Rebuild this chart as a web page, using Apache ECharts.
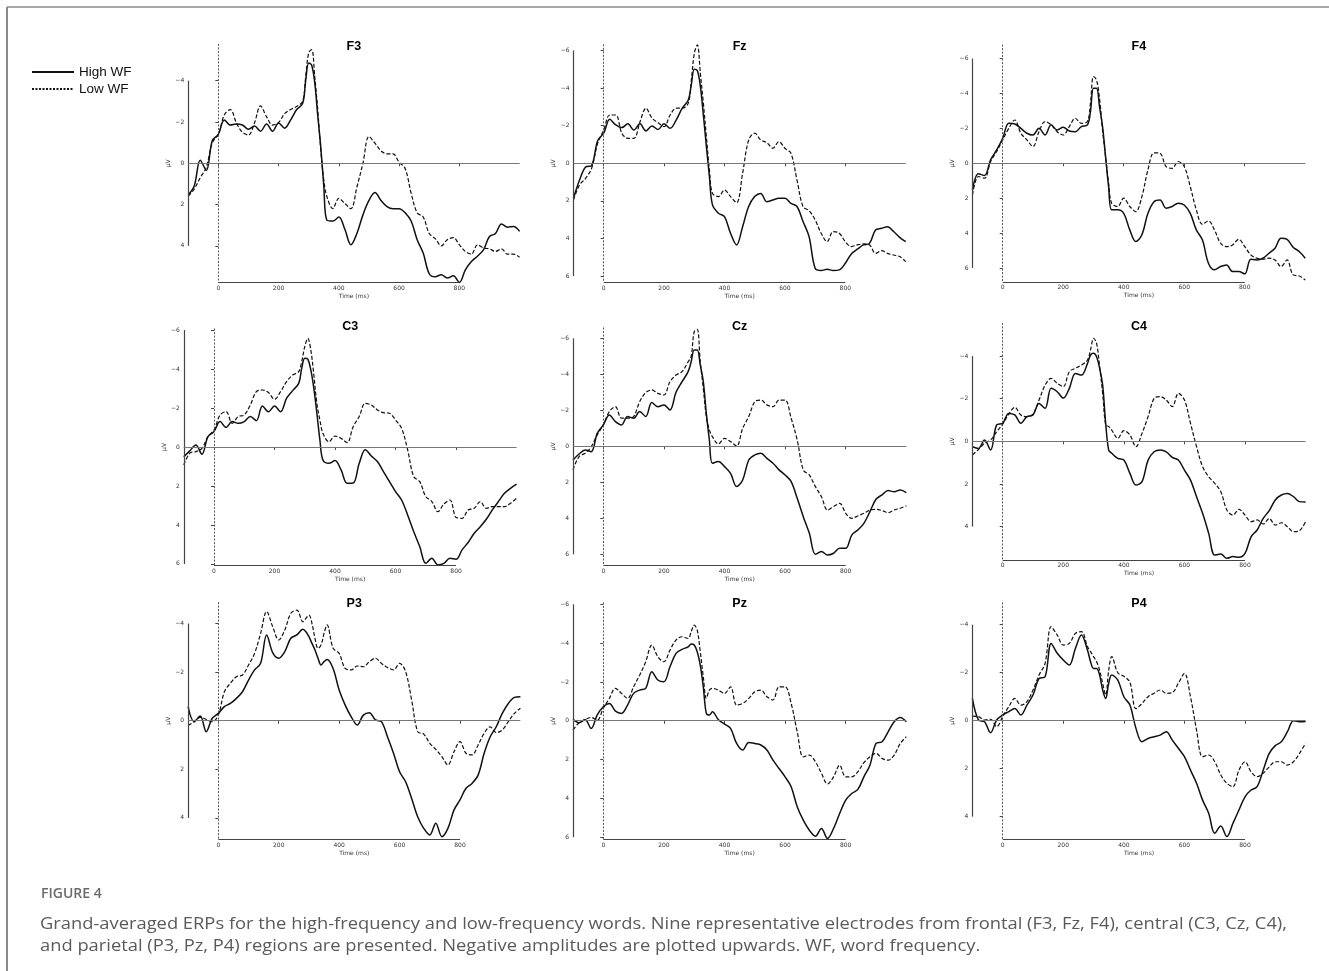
<!DOCTYPE html>
<html><head><meta charset="utf-8">
<script src="https://cdn.jsdelivr.net/npm/echarts@6/dist/echarts.min.js"></script>
<style>html,body{margin:0;padding:0;background:#fff}#c{width:1329px;height:971px}</style>
</head><body><div id="c"></div>
<script>
// ---------- DATA ----------
const electrodes = ['F3','Fz','F4','C3','Cz','C4','P3','Pz','P4'];
const seriesNames = ['High WF','Low WF'];
const times = [-100,-80,-60,-40,-20,0,20,40,60,80,100,120,140,160,180,200,220,240,260,280,
  290,300,310,320,330,340,350,360,
  380,400,420,440,460,480,500,520,540,560,580,600,620,640,660,680,700,720,740,760,780,800,820,840,860,880,900,920,940,960,980,1000];

const highF3 = [1.53,1.1,-0.15,0.35,-1.1,-1.4,-2.1,-1.85,-1.9,-1.85,-1.65,-1.8,-1.55,-1.9,-1.55,-1.95,-1.7,-2.1,-2.6,-2.9,
  -4.0,-4.85,-4.75,-3.9,-2.3,-0.8,1.1,2.75,
  2.8,2.6,3.2,3.95,3.4,2.5,1.8,1.42,1.8,2.1,2.2,2.2,2.4,2.8,3.7,4.35,5.35,5.5,5.4,5.56,5.45,5.77,5.16,4.76,4.5,4.2,3.55,3.4,2.94,3.1,3.06,3.3];
const lowF3 = [1.6,1.25,0.7,0.2,-1.0,-1.4,-2.35,-2.6,-1.95,-1.5,-1.37,-1.95,-2.78,-2.26,-1.85,-1.97,-2.4,-2.6,-2.75,-3.0,
  -4.2,-5.35,-5.5,-4.2,-2.6,-0.65,0.8,1.6,
  2.2,1.7,1.95,2.2,1.15,0.0,-1.3,-0.97,-0.6,-0.45,-0.45,-0.05,0.25,1.45,2.4,2.6,3.4,3.65,4.0,3.7,3.6,3.95,4.27,4.4,3.95,4.1,4.15,4.27,4.15,4.4,4.4,4.55];

const highFz = [1.86,0.89,0.2,0.12,-1.2,-1.6,-2.34,-2.04,-1.9,-2.1,-1.77,-2.1,-1.72,-1.99,-1.8,-2.1,-1.86,-2.3,-2.93,-3.37,
  -4.17,-5.0,-4.93,-4.1,-2.57,-0.9,0.7,2.2,
  2.66,2.84,3.72,4.34,3.37,2.3,1.77,1.6,2.04,1.95,1.86,1.86,2.13,2.3,3.1,3.9,5.58,5.7,5.64,5.7,5.67,5.32,4.82,4.57,4.34,4.26,3.55,3.46,3.37,3.63,3.94,4.17];
const lowFz = [1.95,1.15,0.8,0.27,-1.06,-1.77,-2.57,-2.57,-1.6,-1.33,-1.33,-2.2,-2.93,-2.4,-2.16,-1.95,-2.57,-2.93,-2.93,-3.2,
  -4.4,-5.85,-6.3,-4.8,-3.2,-1.42,0.35,1.6,
  1.77,1.42,1.77,2.1,0.53,-1.24,-1.6,-1.24,-1.1,-0.8,-1.15,-0.8,-0.53,0.89,2.3,2.52,3.0,3.72,4.17,3.63,3.72,4.17,4.43,4.34,4.29,4.34,4.79,4.65,4.79,4.88,4.96,5.23];

const highF4 = [1.53,0.6,0.7,-0.19,-0.76,-1.43,-2.29,-2.25,-2.0,-1.72,-1.62,-2.0,-1.62,-2.2,-1.91,-2.06,-1.85,-1.81,-2.1,-2.2,
  -2.96,-4.3,-4.3,-3.25,-2.1,-0.38,1.34,2.67,
  2.67,2.87,3.82,4.49,4.1,2.87,2.2,2.1,2.58,2.48,2.29,2.39,2.87,3.82,4.39,5.73,6.11,5.92,5.83,6.21,6.21,6.34,5.5,5.54,5.44,5.16,4.87,4.3,4.36,4.81,5.06,5.44];
const lowF4 = [1.81,0.76,0.86,-0.1,-0.67,-1.34,-2.0,-2.48,-1.72,-1.34,-0.96,-1.81,-2.39,-2.2,-1.81,-1.62,-2.1,-2.58,-2.29,-2.39,
  -3.44,-4.97,-4.78,-3.72,-1.9,-0.38,1.15,2.29,
  2.48,2.0,2.48,2.77,1.91,0.38,-0.6,-0.57,0.19,0.29,-0.1,0.19,1.34,2.67,3.5,3.3,3.82,4.58,4.78,4.68,4.36,4.78,5.25,5.44,5.5,5.44,5.54,5.92,5.54,6.4,6.46,6.69];

const highC3 = [0.5,0.2,-0.1,0.38,-0.53,-0.79,-1.3,-1.0,-1.3,-1.21,-1.3,-1.56,-1.35,-2.1,-1.81,-2.1,-1.81,-2.5,-2.89,-3.26,
  -4.04,-4.55,-4.5,-3.95,-3.0,-1.73,-0.36,0.67,
  0.84,0.7,1.18,1.86,1.85,0.84,0.15,0.46,0.75,1.26,1.78,2.29,2.72,3.49,4.34,5.11,5.97,5.71,6.05,5.97,5.71,5.76,5.28,4.9,4.43,4.09,3.71,3.23,2.8,2.38,2.12,1.91];
const lowC3 = [0.92,0.32,0.24,0.07,-0.53,-0.87,-1.64,-1.81,-1.21,-1.56,-1.64,-2.15,-2.84,-2.92,-2.79,-2.44,-2.84,-3.35,-3.69,-3.86,
  -4.38,-5.15,-5.57,-4.97,-3.69,-2.24,-1.38,-0.7,
  -0.27,-0.56,-0.44,-0.22,-1.04,-1.56,-2.24,-2.15,-1.9,-1.76,-1.73,-1.38,-0.96,0.15,1.52,1.78,2.55,2.8,3.32,2.92,2.72,3.61,3.66,3.23,3.15,2.8,3.15,3.06,3.06,3.06,2.89,2.63];

const highCz = [0.76,0.43,0.2,0.3,-0.72,-1.19,-1.74,-1.37,-1.19,-1.65,-1.56,-1.93,-1.65,-2.43,-2.2,-2.3,-2.02,-3.0,-3.59,-4.15,
  -4.7,-5.35,-5.35,-4.52,-3.6,-1.83,-0.35,0.94,
  0.85,1.13,1.5,2.24,1.87,0.76,0.48,0.39,0.67,0.94,1.31,1.59,1.96,2.89,3.91,4.83,6.0,5.85,6.04,5.94,5.67,5.67,4.93,4.65,4.28,3.63,2.94,2.7,2.46,2.52,2.43,2.57];
const lowCz = [1.31,0.57,0.39,0.02,-0.63,-1.19,-1.93,-2.2,-1.56,-1.56,-1.65,-2.48,-2.98,-3.13,-2.94,-2.85,-3.59,-3.96,-4.15,-4.7,
  -5.0,-6.37,-6.5,-4.7,-3.22,-1.65,-0.91,-0.54,
  -0.13,-0.44,-0.26,-0.02,-1.0,-1.65,-2.48,-2.57,-2.3,-2.2,-2.57,-2.57,-1.56,-0.35,1.31,1.59,2.24,2.8,3.54,3.35,3.17,3.72,4.0,3.87,3.72,3.54,3.5,3.57,3.69,3.54,3.44,3.31];

const highC4 = [0.25,0.33,-0.06,0.41,-0.77,-0.85,-1.31,-1.24,-0.85,-1.16,-1.24,-1.78,-1.55,-2.49,-2.33,-2.03,-2.49,-3.19,-3.11,-3.66,
  -4.05,-4.13,-3.97,-3.43,-2.64,-0.85,0.41,0.56,
  0.8,0.88,1.5,2.05,1.89,0.88,0.49,0.41,0.49,0.75,0.88,1.35,1.82,2.6,3.38,4.32,5.34,5.29,5.49,5.41,5.44,5.26,4.48,4.16,3.62,3.25,2.75,2.52,2.45,2.6,2.83,2.85];
const lowC4 = [0.64,0.38,0.09,-0.06,-0.45,-0.81,-1.28,-1.6,-1.24,-1.16,-1.28,-1.94,-2.64,-2.96,-2.72,-2.57,-3.27,-3.43,-3.58,-3.82,
  -4.3,-4.84,-4.6,-3.51,-2.25,-0.77,-0.69,-0.53,
  -0.14,-0.5,-0.3,0.25,-0.38,-1.16,-2.02,-2.1,-1.94,-1.63,-2.25,-1.94,-0.85,0.25,1.19,1.66,1.97,2.36,3.22,3.46,3.19,3.46,3.77,3.69,3.88,3.62,3.93,3.82,4.01,4.24,4.19,3.77];

const highP3 = [-0.58,0.04,-0.19,0.45,-0.1,-0.3,-0.58,-0.71,-0.92,-1.19,-1.67,-2.09,-2.36,-3.53,-2.8,-2.57,-2.84,-3.39,-3.53,-3.76,
  -3.66,-3.46,-3.18,-2.91,-2.57,-2.29,-2.43,-2.52,
  -2.15,-1.26,-0.64,-0.16,0.18,-0.23,-0.33,-0.03,0.04,0.66,1.34,2.1,2.51,3.2,3.95,4.43,4.7,4.22,4.77,4.43,3.68,3.26,2.78,2.58,2.24,1.34,0.66,0.25,-0.3,-0.71,-0.96,-0.99];
const lowP3 = [0.2,0.04,-0.14,-0.05,0.04,-0.23,-1.19,-1.54,-1.81,-1.88,-2.29,-2.77,-3.59,-4.49,-3.87,-3.32,-3.73,-4.42,-4.55,-4.07,
  -4.21,-4.35,-4.0,-3.39,-2.98,-3.11,-3.59,-3.94,
  -2.98,-2.77,-2.15,-2.09,-2.25,-2.22,-2.43,-2.57,-2.36,-2.19,-2.09,-2.36,-2.02,-0.85,0.45,0.55,0.93,1.18,1.48,1.82,1.28,0.86,1.34,1.41,1.0,0.52,0.25,0.49,0.38,0.04,-0.3,-0.51];

const highPz = [-0.07,0.1,-0.05,0.4,-0.3,-0.72,-0.89,-0.5,-0.38,-0.81,-1.41,-1.58,-1.67,-2.53,-2.1,-2.01,-2.78,-3.47,-3.68,-3.81,
  -3.95,-3.9,-3.56,-2.87,-1.75,-0.38,-0.29,-0.46,
  -0.05,0.17,0.39,1.17,1.51,1.12,1.17,1.25,1.51,2.03,2.46,2.89,3.4,4.43,5.12,5.64,5.95,5.55,6.07,5.55,4.78,4.09,3.75,3.54,2.89,2.29,1.17,1.08,0.57,0.05,-0.17,0.05];
const lowPz = [0.48,0.1,-0.07,-0.17,-0.03,-0.64,-1.15,-1.67,-1.41,-1.15,-1.75,-2.35,-3.04,-3.9,-3.3,-3.04,-3.64,-4.16,-4.33,-4.24,
  -4.59,-4.93,-4.67,-3.56,-2.27,-1.15,-1.58,-1.67,
  -1.58,-1.41,-1.75,-0.81,-0.89,-1.15,-1.49,-1.58,-1.24,-1.07,-1.75,-1.75,-0.89,0.57,1.86,1.77,2.11,2.71,3.26,2.89,2.29,2.89,2.89,2.63,2.16,1.86,1.68,1.94,2.03,1.77,1.17,0.82];

const highP4 = [-0.93,-0.03,0.04,0.5,-0.03,-0.24,-0.38,-0.51,-0.24,-0.65,-1.07,-1.76,-1.83,-3.22,-2.81,-2.53,-2.32,-3.01,-3.57,-2.94,
  -2.46,-2.18,-2.18,-1.9,-1.28,-0.93,-1.56,-1.9,
  -1.69,-1.0,-0.65,0.32,0.88,0.74,0.67,0.6,0.46,0.81,1.15,1.5,2.06,2.61,3.31,3.86,4.69,4.39,4.83,4.28,3.72,3.17,2.89,2.75,2.06,1.36,1.04,0.88,0.46,0.0,0.04,0.03];
const lowP4 = [-0.19,-0.17,-0.03,-0.06,0.25,-0.17,-0.58,-0.93,-0.65,-0.79,-1.28,-1.9,-2.39,-3.92,-3.57,-3.15,-3.22,-3.64,-3.71,-3.08,
  -2.88,-2.67,-2.46,-2.11,-1.56,-1.07,-2.11,-2.67,
  -2.0,-1.85,-1.6,-0.5,-0.72,-1.0,-1.14,-1.28,-1.14,-1.17,-1.56,-1.97,-1.0,0.39,1.5,1.43,1.71,2.26,2.61,2.75,2.06,1.71,2.13,2.33,2.19,1.92,1.71,1.71,1.85,1.71,1.36,0.94];

const highData = [highF3, highFz, highF4, highC3, highCz, highC4, highP3, highPz, highP4];
const lowData  = [lowF3, lowFz, lowF4, lowC3, lowCz, lowC4, lowP3, lowPz, lowP4];

const xTicks = [0, 200, 400, 600, 800];
const yTicks4 = [-4, -2, 0, 2, 4];
const yTicks6 = [-6, -4, -2, 0, 2, 4, 6];
const yTicks = [yTicks4, yTicks6, yTicks6, yTicks6, yTicks6, yTicks4, yTicks4, yTicks6, yTicks4];
const yLim = [5.78, 6.33, 6.8, 6.07, 6.6, 5.56, 4.88, 6.1, 4.93];
const xMin = -100, xMax = 1000;

const captionLabel = 'FIGURE 4';
const captionLines = [
  'Grand-averaged ERPs for the high-frequency and low-frequency words. Nine representative electrodes from frontal (F3, Fz, F4), central (C3, Cz, C4),',
  'and parietal (P3, Pz, P4) regions are presented. Negative amplitudes are plotted upwards. WF, word frequency.'
];

// ---------- LAYOUT ----------
const panelBox = [
  {left:188.2, top:43.9,  width:331.4, height:238.7},
  {left:573.5, top:44.3,  width:332.2, height:238.0},
  {left:972.45,top:44.6,  width:332.8, height:237.3},
  {left:183.75,top:328.6, width:332.8, height:236.7},
  {left:573.0, top:327.5, width:333.3, height:237.6},
  {left:972.4, top:322.9, width:333.2, height:236.9},
  {left:188.1, top:602.1, width:332.3, height:237.2},
  {left:573.0, top:602.4, width:333.3, height:236.7},
  {left:972.4, top:602.4, width:333.2, height:236.6}
];
const titleY = [47, 47, 47, 326.7, 326.7, 326.7, 604, 604, 604];

const tickFont = 'DejaVu Sans';
const fmtY = v => (v < 0 ? '\u2212' + Math.abs(v) : String(v));

const grids = [], xAxes = [], yAxes = [], series = [], graphics = [];
electrodes.forEach((el, i) => {
  const b = panelBox[i];
  grids.push({left: b.left, top: b.top, width: b.width, height: b.height, containLabel: false});
  xAxes.push({
    type: 'value', gridIndex: i, min: xMin, max: xMax,
    axisLine: {show: false}, splitLine: {show: false},
    axisTick: {show: true, customValues: xTicks, length: 3, lineStyle: {color: '#444', width: 1}},
    axisLabel: {customValues: xTicks, fontSize: 6, fontFamily: tickFont, color: '#333', margin: 3},
    name: 'Time (ms)', nameLocation: 'middle', nameGap: 11,
    nameTextStyle: {fontSize: 6, fontFamily: tickFont, color: '#333'}
  });
  const lim = yLim[i];
  const yt = yTicks[i];
  yAxes.push({
    type: 'value', gridIndex: i, inverse: true, min: -lim, max: lim,
    axisLine: {show: false}, splitLine: {show: false},
    axisTick: {show: true, customValues: yt, length: 3, lineStyle: {color: '#444', width: 1}},
    axisLabel: {customValues: yt, formatter: fmtY, fontSize: 6, fontFamily: tickFont, color: '#333', margin: 4},
    name: '\u00b5V', nameLocation: 'middle', nameGap: 16, nameRotate: 90,
    nameTextStyle: {fontSize: 6, fontFamily: tickFont, color: '#333'}
  });
  const spineStyle = {color: '#444', width: 1.2, type: 'solid'};
  series.push({
    name: seriesNames[0], type: 'line', xAxisIndex: i, yAxisIndex: i,
    data: times.map((t, k) => [t, highData[i][k]]),
    smooth: 0.35, symbol: 'none', clip: false, z: 3,
    lineStyle: {color: '#111', width: 1.5, type: 'solid'},
    itemStyle: {color: '#111'},
    markLine: {
      silent: true, symbol: ['none', 'none'], label: {show: false}, animation: false,
      emphasis: {disabled: true},
      data: [
        [{coord: [xMin, yt[0]], lineStyle: spineStyle}, {coord: [xMin, yt[yt.length - 1]]}],
        [{coord: [xTicks[0], lim], lineStyle: spineStyle}, {coord: [xTicks[xTicks.length - 1], lim]}],
        [{coord: [xMin, 0], lineStyle: {color: '#777', width: 1, type: 'solid'}}, {coord: [xMax, 0]}],
        [{coord: [0, -lim], lineStyle: {color: '#555', width: 1, type: [2, 1.5]}}, {coord: [0, lim]}]
      ]
    }
  });
  series.push({
    name: seriesNames[1], type: 'line', xAxisIndex: i, yAxisIndex: i,
    data: times.map((t, k) => [t, lowData[i][k]]),
    smooth: 0.35, symbol: 'none', clip: false, z: 3,
    lineStyle: {color: '#111', width: 1.2, type: [4, 2]},
    itemStyle: {color: '#111'}
  });
  graphics.push({
    type: 'text', x: b.left + b.width / 2, y: titleY[i], silent: true,
    style: {text: el, align: 'center', verticalAlign: 'middle', font: 'bold 12.5px "Liberation Sans", Arial, sans-serif', fill: '#000'}
  });
});

// caption width fitting (horizontal scale so the caption spans like the reference)
const capFont = '16px "Open Sans", sans-serif';
function textWidth(txt, font) {
  const ctx = document.createElement('canvas').getContext('2d');
  ctx.font = font; return ctx.measureText(txt).width;
}
const capScale = Math.min(380 / textWidth('Grand-averaged ERPs for the high-frequency', capFont),
                          1282 / textWidth(captionLines[0], capFont));

// figure frame & caption
graphics.push({type: 'line', silent: true, shape: {x1: 7, y1: 7, x2: 1329, y2: 7}, style: {stroke: '#8a8a8a', lineWidth: 1.5}});
graphics.push({type: 'line', silent: true, shape: {x1: 7, y1: 7, x2: 7, y2: 971}, style: {stroke: '#8a8a8a', lineWidth: 2}});
graphics.push({type: 'text', x: 41, y: 894.5, silent: true,
  style: {text: captionLabel, verticalAlign: 'middle', font: '600 14px "Open Sans", sans-serif', fill: '#6a6a6a'}});
graphics.push({type: 'text', x: 40, y: 924, scaleX: capScale, silent: true,
  style: {text: captionLines[0], verticalAlign: 'middle', font: capFont, fill: '#5a5a5a'}});
graphics.push({type: 'text', x: 40, y: 946, scaleX: capScale, silent: true,
  style: {text: captionLines[1], verticalAlign: 'middle', font: capFont, fill: '#5a5a5a'}});

const option = {
  backgroundColor: '#fff',
  animation: false,
  legend: {
    left: 31, top: 65, padding: 0, orient: 'vertical', itemWidth: 42, itemHeight: 14, itemGap: 3,
    selectedMode: false,
    itemStyle: {opacity: 0, borderWidth: 0},
    textStyle: {fontSize: 13.5, fontFamily: '"Liberation Sans", Arial, sans-serif', color: '#111'},
    data: [
      {name: seriesNames[0], lineStyle: {width: 2, type: 'solid'}},
      {name: seriesNames[1], lineStyle: {width: 2, type: [2, 1.5]}}
    ]
  },
  grid: grids, xAxis: xAxes, yAxis: yAxes, series: series, graphic: graphics
};
const chart = echarts.init(document.getElementById('c'), null, {renderer: 'canvas'});
chart.setOption(option);
</script></body></html>
